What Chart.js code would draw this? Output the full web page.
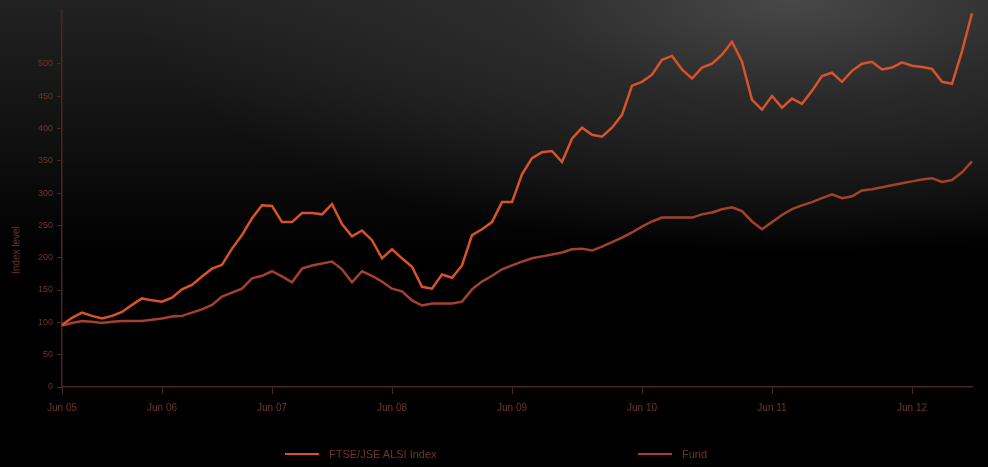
<!DOCTYPE html>
<html>
<head>
<meta charset="utf-8">
<script src="https://cdn.jsdelivr.net/npm/chart.js@4/dist/chart.umd.min.js"></script>
<style>
  body { margin: 0; background: #000; }
  #wrap {
    position: relative; width: 988px; height: 467px; overflow: hidden;
    background:
      radial-gradient(ellipse 650px 250px at 80% 0%, rgba(72,72,72,1) 0%, rgba(50,50,50,0.7) 40%, rgba(0,0,0,0) 100%),
      linear-gradient(to bottom, #222 0%, #101010 30%, #000 55%, #000 100%);
  }
  #yTitle {
    position: absolute; left: 16px; top: 250px;
    transform: translate(-50%, -50%) rotate(-90deg);
    font: 10px "Liberation Sans", Arial, sans-serif; color: #6e352d; white-space: nowrap;
  }
  #legend {
    position: absolute; top: 448px; left: 0; width: 988px; height: 16px;
    font: 11px "Liberation Sans", Arial, sans-serif; color: #6e352d;
  }
  .item { position: absolute; display: flex; align-items: center; gap: 10px; }
  .swatch { width: 34px; height: 2px; }
</style>
</head>
<body>
<div id="wrap">
  <canvas id="chart"></canvas>
  <div id="yTitle">Index level</div>
  <div id="legend"></div>
</div>
<script>
// -------------------------------
// Data (about one point per 10 px)
// -------------------------------
const seriesNames = ['FTSE/JSE ALSI Index', 'Fund'];
const seriesColors = ['#d8532b', '#a3412e'];

const tickLabels = { 0: 'Jun 05', 10: 'Jun 06', 21: 'Jun 07', 33: 'Jun 08', 45: 'Jun 09', 58: 'Jun 10', 71: 'Jun 11', 85: 'Jun 12' };

const indexValues = [
  96, 107, 115, 110, 106, 110, 116, 127, 137, 134,
  132, 138, 151, 158, 171, 183, 189, 214, 235, 261,
  281, 280, 255, 255, 269, 269, 267, 283, 252, 233,
  242, 227, 199, 213, 199, 186, 155, 152, 174, 169,
  188, 235, 244, 255, 286, 286, 329, 354, 363, 365,
  348, 384, 401, 390, 387, 401, 421, 466, 472, 483,
  506, 512, 491, 477, 494, 500, 514, 534, 503, 444,
  429, 450, 432, 446, 438, 458, 481, 486, 472, 489,
  500, 503, 491, 494, 502, 497, 495, 492, 472, 469,
  519, 578
];

const fundValues = [
  95, 99, 102, 101, 99, 101, 102, 102, 102, 104,
  106, 109, 110, 115, 120, 127, 140, 146, 152, 168,
  172, 179, 171, 162, 183, 188, 191, 194, 182, 162,
  179, 172, 163, 152, 148, 134, 126, 129, 129, 129,
  132, 151, 163, 172, 182, 188, 194, 199, 202, 205,
  208, 213, 214, 211, 217, 224, 231, 239, 248, 256,
  262, 262, 262, 262, 267, 270, 275, 278, 272, 256,
  244, 255, 266, 275, 281, 286, 292, 298, 292, 295,
  304, 306, 309, 312, 315, 318, 321, 323, 317, 320,
  332, 349
];

const labels = indexValues.map((v, i) => tickLabels[i] || '');

// -------------------------------
// HTML legend
// -------------------------------
const legendLeft = [285, 638];
const legend = document.getElementById('legend');
seriesNames.forEach((name, i) => {
  const el = document.createElement('div');
  el.className = 'item';
  el.style.left = legendLeft[i] + 'px';
  el.innerHTML = `<span class="swatch" style="background:${seriesColors[i]}"></span><span>${name}</span>`;
  legend.appendChild(el);
});

// -------------------------------
// Chart
// -------------------------------
const axisColor = '#4a2624';
const tickColor = '#6e352d';

new Chart(document.getElementById('chart'), {
  type: 'line',
  data: {
    labels: labels,
    datasets: [
      { label: seriesNames[0], data: indexValues, borderColor: seriesColors[0], borderWidth: 2.5, pointRadius: 0, tension: 0 },
      { label: seriesNames[1], data: fundValues, borderColor: seriesColors[1], borderWidth: 2.5, pointRadius: 0, tension: 0 }
    ]
  },
  options: {
    responsive: true,
    maintainAspectRatio: false,
    animation: false,
    layout: { padding: { top: 6, right: 16 } },
    plugins: { legend: { display: false }, tooltip: { enabled: false } },
    scales: {
      x: {
        grid: { drawOnChartArea: false, color: axisColor, tickLength: 7 },
        border: { color: axisColor, width: 1.5 },
        ticks: { autoSkip: false, maxRotation: 0, color: tickColor, padding: 8, font: { size: 10, family: 'Liberation Sans' } },
        afterBuildTicks: s => { s.ticks = s.ticks.filter(t => labels[t.value]); },
        afterFit: s => { s.height = 80; }
      },
      y: {
        min: 0,
        max: 584,
        grid: { drawOnChartArea: false, color: axisColor, tickLength: 5 },
        border: { color: axisColor, width: 1.5 },
        ticks: { stepSize: 50, color: tickColor, padding: 4, font: { size: 9, family: 'Liberation Sans' } },
        afterBuildTicks: s => { s.ticks = s.ticks.filter(t => t.value <= 500); },
        afterFit: s => { s.width = 62; }
      }
    }
  }
});
</script>
</body>
</html>
